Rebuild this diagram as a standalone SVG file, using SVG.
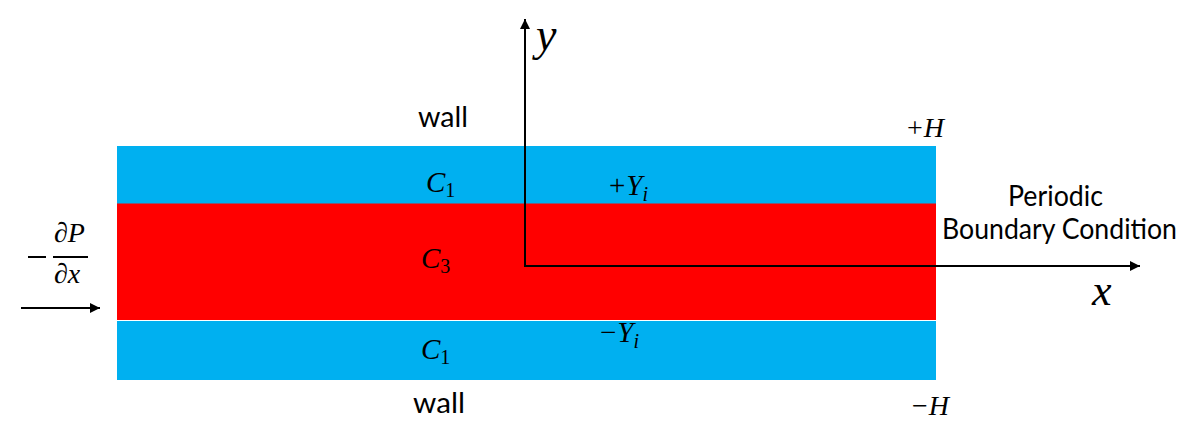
<svg xmlns="http://www.w3.org/2000/svg" width="1196" height="441" viewBox="0 0 1196 441">
<defs>
<style>
.lbl{font-family:Lato,"Liberation Sans",sans-serif;font-size:28px;fill:#000}
.m{font-family:"Liberation Serif","DejaVu Serif",serif;font-style:italic;fill:#000}
.up{font-style:normal}
.ax{stroke:#000;stroke-width:2;fill:none}
</style>
<marker id="ah" viewBox="0 0 10 10" refX="10" refY="5" markerWidth="5.5" markerHeight="5" markerUnits="strokeWidth" orient="auto">
<path d="M0,0 L10,5 L0,10 z" fill="#000"/>
</marker>
</defs>
<rect width="1196" height="441" fill="#fff"/>
<g id="layer-top">
<rect x="117" y="146" width="819" height="58" fill="#00B0F0"/>
</g>
<g id="layer-core">
<rect x="117" y="203.5" width="819" height="116.5" fill="#FF0000"/>
</g>
<g id="layer-bottom">
<rect x="117" y="321" width="819" height="59" fill="#00B0F0"/>
</g>
<g id="connectors">
<line class="ax" x1="525" y1="267" x2="525" y2="19" marker-end="url(#ah)"/>
<line class="ax" x1="524" y1="266" x2="1140" y2="266" marker-end="url(#ah)"/>
<line class="ax" x1="21" y1="308" x2="100" y2="308" marker-end="url(#ah)"/>
</g>
<g id="labels">
<text class="lbl" x="418" y="127" textLength="50" lengthAdjust="spacingAndGlyphs">wall</text>
<text class="lbl" x="413" y="413" textLength="52" lengthAdjust="spacingAndGlyphs">wall</text>
<text class="lbl" x="1008" y="206" textLength="95" lengthAdjust="spacingAndGlyphs">Periodic</text>
<text class="lbl" x="942" y="239" textLength="235" lengthAdjust="spacingAndGlyphs">Boundary Condition</text>
<text class="m" x="536" y="50" font-size="46">y</text>
<text class="m" x="1092" y="305" font-size="44">x</text>
<text class="m" x="426" y="192" font-size="29">C<tspan class="up" font-size="20" dy="5">1</tspan></text>
<text class="m" x="421" y="268" font-size="29">C<tspan class="up" font-size="20" dy="5">3</tspan></text>
<text class="m" x="421" y="359" font-size="29">C<tspan class="up" font-size="20" dy="5">1</tspan></text>
<text class="m" x="609" y="195" font-size="29"><tspan class="up">+</tspan><tspan dx="1">Y</tspan><tspan font-size="20" dy="6">i</tspan></text>
<text class="m" x="600" y="342" font-size="29"><tspan class="up">−</tspan><tspan dx="1">Y</tspan><tspan font-size="20" dy="6">i</tspan></text>
<text class="m" x="907" y="137" font-size="28"><tspan class="up">+</tspan><tspan dx="1">H</tspan></text>
<text class="m" x="912" y="415" font-size="28"><tspan class="up">−</tspan><tspan dx="1">H</tspan></text>
<text class="m" x="54" y="242" font-size="28">∂P</text>
<text class="m" x="54" y="283" font-size="28">∂x</text>
<line x1="28" y1="257" x2="46" y2="257" stroke="#000" stroke-width="2"/>
<line x1="53" y1="257" x2="88" y2="257" stroke="#000" stroke-width="1.8"/>
</g>
</svg>
